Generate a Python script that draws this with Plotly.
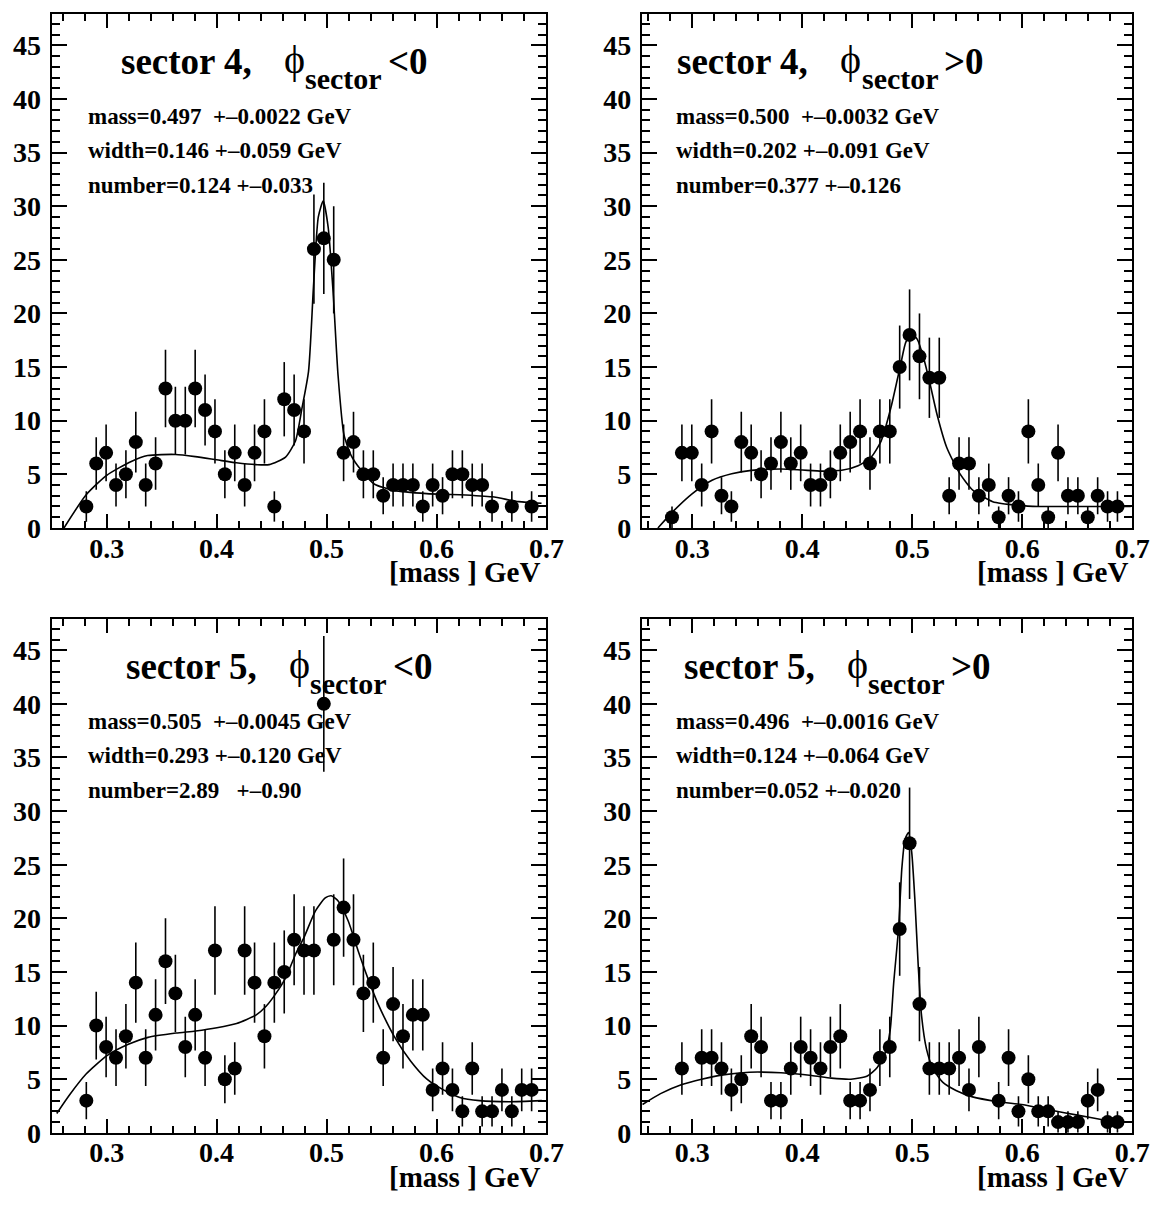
import numpy as np
import plotly.graph_objects as go

W, H = 1170, 1209

# ---------------- data ----------------
X_MIN, X_MAX, N_BINS = 0.25, 0.70, 50

counts_s4_neg = [0, 0, 0, 2, 6, 7, 4, 5, 8, 4, 6, 13, 10, 10, 13, 11, 9, 5, 7, 4,
                 7, 9, 2, 12, 11, 9, 26, 27, 25, 7, 8, 5, 5, 3, 4, 4, 4, 2, 4, 3,
                 5, 5, 4, 4, 2, 0, 2, 0, 2, 0]
counts_s4_pos = [0, 0, 0, 1, 7, 7, 4, 9, 3, 2, 8, 7, 5, 6, 8, 6, 7, 4, 4, 5,
                 7, 8, 9, 6, 9, 9, 15, 18, 16, 14, 14, 3, 6, 6, 3, 4, 1, 3, 2, 9,
                 4, 1, 7, 3, 3, 1, 3, 2, 2, 0]
counts_s5_neg = [0, 0, 0, 3, 10, 8, 7, 9, 14, 7, 11, 16, 13, 8, 11, 7, 17, 5, 6, 17,
                 14, 9, 14, 15, 18, 17, 17, 40, 18, 21, 18, 13, 14, 7, 12, 9, 11, 11, 4, 6,
                 4, 2, 6, 2, 2, 4, 2, 4, 4, 0]
counts_s5_pos = [0, 0, 0, 0, 6, 0, 7, 7, 6, 4, 5, 9, 8, 3, 3, 6, 8, 7, 6, 8,
                 9, 3, 3, 4, 7, 8, 19, 27, 12, 6, 6, 6, 7, 4, 8, 0, 3, 7, 2, 5,
                 2, 2, 1, 1, 1, 3, 4, 1, 1, 0]

# fit curves
fit_s4_neg_x = [0.2612, 0.2812, 0.300, 0.3224, 0.3373, 0.3627, 0.3806, 0.400, 0.4179, 0.4358,
                0.4478, 0.4627, 0.4717, 0.4777, 0.4836, 0.4881, 0.4925, 0.4970, 0.5015, 0.5060,
                0.5104, 0.5158, 0.5224, 0.5314, 0.5433, 0.5612, 0.5910, 0.6209, 0.6508, 0.6747, 0.6955]
fit_s4_neg_y = [0.0, 3.07, 4.9, 6.2, 6.75, 6.85, 6.65, 6.35, 6.07, 5.9,
                5.9, 6.6, 8.1, 11.2, 14.6, 22.5, 29.0, 30.5, 28.0, 21.9,
                14.3, 8.7, 6.75, 5.4, 4.1, 3.5, 3.2, 3.1, 2.9, 2.45, 2.3]

fit_s4_pos_x = [0.2687, 0.2821, 0.300, 0.3179, 0.3358, 0.3537, 0.3811, 0.400, 0.4179, 0.4358,
                0.4507, 0.4626, 0.4716, 0.4805, 0.4895, 0.4940, 0.4991, 0.5044, 0.5104, 0.5164,
                0.5224, 0.5313, 0.5432, 0.5552, 0.5731, 0.5970, 0.6149, 0.640, 0.6985]
fit_s4_pos_y = [0.0, 1.5, 3.2, 4.45, 5.06, 5.37, 5.5, 5.4, 5.3, 5.37,
                5.8, 6.6, 8.1, 11.2, 15.3, 17.3, 18.1, 17.6, 15.8, 13.3,
                10.6, 7.5, 5.06, 3.5, 2.45, 2.1, 2.0, 2.0, 2.0]

fit_s5_neg_x = [0.2546, 0.266, 0.2815, 0.3003, 0.3197, 0.3376, 0.3630, 0.3809, 0.4003, 0.4182,
                0.4361, 0.445, 0.454, 0.463, 0.4720, 0.4794, 0.4899, 0.4988, 0.5042, 0.5107,
                0.5197, 0.5286, 0.5376, 0.5465, 0.5615, 0.5764, 0.5913, 0.6063, 0.6212, 0.6391,
                0.6660, 0.6958]
fit_s5_neg_y = [1.8, 3.5, 5.5, 7.2, 8.25, 8.9, 9.3, 9.5, 9.8, 10.2,
                11.0, 11.8, 13.0, 14.5, 16.7, 18.2, 20.7, 21.9, 22.1, 21.6,
                19.75, 17.0, 14.4, 12.1, 9.0, 6.7, 5.0, 4.0, 3.3, 3.0,
                2.9, 3.0]

fit_s5_pos_x = [0.2547, 0.2711, 0.2905, 0.3084, 0.3278, 0.3517, 0.3806, 0.4084, 0.4263, 0.4442,
                0.4591, 0.4681, 0.4755, 0.4799, 0.4830, 0.4875, 0.4905, 0.4934, 0.4965, 0.4994,
                0.5024, 0.5054, 0.5084, 0.5129, 0.5189, 0.5278, 0.5397, 0.5547, 0.5785, 0.6024,
                0.6263, 0.6501, 0.6741, 0.6920]
fit_s5_pos_y = [2.64, 3.65, 4.5, 5.0, 5.4, 5.65, 5.6, 5.35, 5.1, 5.0,
                5.3, 6.1, 7.5, 9.6, 13.9, 19.1, 24.7, 27.4, 28.0, 26.2,
                21.6, 15.5, 10.9, 7.8, 5.95, 4.7, 3.95, 3.35, 2.9, 2.6,
                2.1, 1.65, 1.2, 0.9]

title_main = ["sector 4,", "sector 4,", "sector 5,", "sector 5,"]
title_phi = "ϕ"
title_sub = "sector"
title_rel = ["&lt;0", "&gt;0", "&lt;0", "&gt;0"]
stats = [["mass=0.497\u00a0\u00a0+\u20130.0022 GeV", "width=0.146 +\u20130.059 GeV", "number=0.124 +\u20130.033"],
         ["mass=0.500\u00a0\u00a0+\u20130.0032 GeV", "width=0.202 +\u20130.091 GeV", "number=0.377 +\u20130.126"],
         ["mass=0.505\u00a0\u00a0+\u20130.0045 GeV", "width=0.293 +\u20130.120 GeV", "number=2.89\u00a0\u00a0\u00a0+\u20130.90"],
         ["mass=0.496\u00a0\u00a0+\u20130.0016 GeV", "width=0.124 +\u20130.064 GeV", "number=0.052 +\u20130.020"]]
x_title = "[mass ] GeV"
x_ticks = [0.3, 0.4, 0.5, 0.6, 0.7]
y_ticks = [0, 5, 10, 15, 20, 25, 30, 35, 40, 45]

# ---------------- layout geometry (pixels) ----------------
panels = [
    dict(x0=52.5, x1=555, y0=14, y1=535, xr=[0.25, 0.70], tx=122, sx=88, ax=549),
    dict(x0=652, x1=1150, y0=14, y1=535, xr=[0.2542, 0.70], tx=687, sx=686, ax=1147),
    dict(x0=52.5, x1=555, y0=627, y1=1148, xr=[0.25, 0.70], tx=127, sx=88, ax=549),
    dict(x0=652, x1=1150, y0=627, y1=1148, xr=[0.2542, 0.70], tx=694, sx=686, ax=1147),
]
Y_RANGE = [0, 47.94]

def px(x):
    return x / W

def py(y):
    return 1 - y / H

FONT = "Liberation Serif"

counts_all = [counts_s4_neg, counts_s4_pos, counts_s5_neg, counts_s5_pos]
fits = [(fit_s4_neg_x, fit_s4_neg_y), (fit_s4_pos_x, fit_s4_pos_y),
        (fit_s5_neg_x, fit_s5_neg_y), (fit_s5_pos_x, fit_s5_pos_y)]

edges = np.linspace(X_MIN, X_MAX, N_BINS + 1)
centers = 0.5 * (edges[:-1] + edges[1:])

fig = go.Figure()
annotations = []

def ann(x, y, text, size, weight="bold", xanchor="left"):
    annotations.append(dict(
        x=px(x), y=py(y), xref="paper", yref="paper", xanchor=xanchor, yanchor="middle",
        text=text, showarrow=False, borderpad=0,
        font=dict(family=FONT, size=size, color="black", weight=weight)))

for k, p in enumerate(panels):
    sfx = "" if k == 0 else str(k + 1)
    c = np.array(counts_all[k], dtype=float)
    m = c > 0
    fx, fy = fits[k]
    fig.add_trace(go.Scatter(
        x=fx, y=fy, mode="lines", line=dict(color="black", width=1.6, shape="spline", smoothing=0.6),
        xaxis="x" + sfx, yaxis="y" + sfx, showlegend=False, hoverinfo="skip"))
    fig.add_trace(go.Scatter(
        x=centers[m], y=c[m], mode="markers",
        marker=dict(color="black", size=14, symbol="circle"),
        error_y=dict(type="data", array=np.sqrt(c[m]), visible=True, color="black",
                     thickness=1.6, width=0),
        xaxis="x" + sfx, yaxis="y" + sfx, showlegend=False))

    axis_common = dict(showgrid=False, zeroline=False, showline=True, linecolor="black",
                       linewidth=2, mirror="allticks", ticks="inside", tickcolor="black",
                       tickwidth=1.5)
    fig.layout["xaxis" + sfx] = dict(
        domain=[px(p["x0"]), px(p["x1"])], range=p["xr"], anchor="y" + sfx,
        tickvals=x_ticks, ticktext=[f"{v:.1f}" for v in x_ticks], ticklen=14,
        minor=dict(dtick=0.02, tick0=0, ticklen=7, ticks="inside", tickcolor="black", tickwidth=1.5),
        tickfont=dict(family=FONT, size=28, color="black", weight="bold"),
        ticklabelstandoff=-6, **axis_common)
    fig.layout["yaxis" + sfx] = dict(
        domain=[py(p["y1"]), py(p["y0"])], range=Y_RANGE, anchor="x" + sfx,
        tickvals=y_ticks, ticktext=[str(v) for v in y_ticks], ticklen=15,
        minor=dict(dtick=1, tick0=0, ticklen=8, ticks="inside", tickcolor="black", tickwidth=1.5),
        tickfont=dict(family=FONT, size=28, color="black", weight="bold"),
        ticklabelstandoff=3, **axis_common)

    dy = p["y0"] - 14
    dx = p["tx"] - 122
    ann(122 + dx, 62 + dy, title_main[k], 37)
    ann(287 + dx, 60 + dy, title_phi, 40, weight="normal")
    ann(309 + dx, 80 + dy, title_sub, 30)
    ann(393 + dx, 62 + dy, title_rel[k], 37)
    for j, s in enumerate(stats[k]):
        ann(p["sx"], 118 + 35 * j + dy, s, 23)
    ann(p["ax"], 580 + dy, x_title, 29, xanchor="right")

fig.update_layout(width=W, height=H, margin=dict(l=0, r=0, t=0, b=0),
                  paper_bgcolor="white", plot_bgcolor="white", annotations=annotations)
fig.write_html("out.html")
